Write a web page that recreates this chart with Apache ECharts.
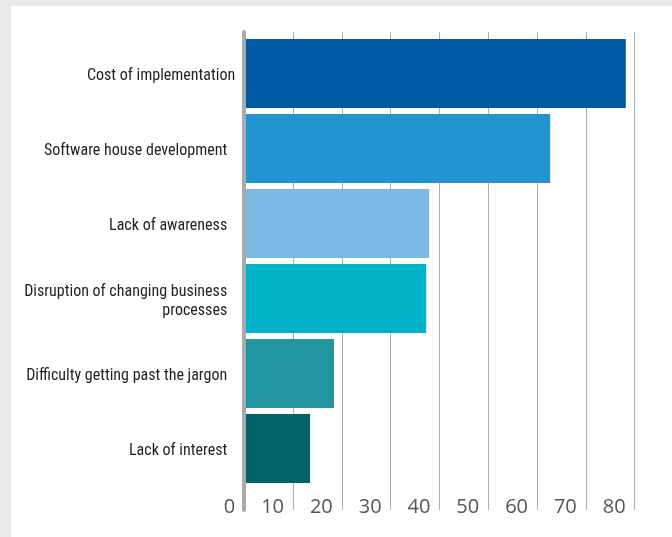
<!DOCTYPE html>
<html>
<head>
<meta charset="utf-8">
<script src="https://cdn.jsdelivr.net/npm/echarts@6/dist/echarts.min.js"></script>
<style>
html,body{margin:0;padding:0;background:#e8e9e8;}
#panel{position:absolute;left:11px;top:6px;width:661px;height:531px;background:#fff;}
#chart{position:absolute;left:0;top:0;width:672px;height:537px;}
</style>
</head>
<body>
<div id="panel"></div>
<div id="chart"></div>
<script>
const categories = [
  "Cost of implementation",
  "Software house development",
  "Lack of awareness",
  "Disruption of changing business\nprocesses",
  "Difficulty getting past the jargon",
  "Lack of interest"
];
const values = [78.2, 62.7, 37.9, 37.3, 18.4, 13.5];
const barColors = ["#005ba3", "#2394d2", "#7cb8e4", "#00b3c9", "#2196a1", "#006367"];
const xTicks = [0, 10, 20, 30, 40, 50, 60, 70, 80];

const labelFont = '"Roboto Condensed", "Liberation Sans Narrow", "DejaVu Sans Condensed", sans-serif';
const chart = echarts.init(document.getElementById('chart'), null, {renderer: 'canvas'});
const left = 244.2, right = 672 - 634.6;
chart.setOption({
  backgroundColor: 'transparent',
  animation: false,
  grid: [
    {left: left, right: right, top: 32, bottom: 27},
    {left: left, right: right, top: 36, bottom: 51}
  ],
  xAxis: [
    {
      gridIndex: 0, type: 'value', min: xTicks[0], max: xTicks[xTicks.length - 1], interval: 10,
      axisLine: {show: false}, axisTick: {show: false},
      splitLine: {show: true, lineStyle: {color: '#adadad', width: 1}},
      axisLabel: {
        margin: -3, align: 'right', verticalAlign: 'middle', padding: [0, 9, 0, 0],
        fontFamily: 'Open Sans', fontSize: 20, color: '#555555'
      }
    },
    {gridIndex: 1, type: 'value', min: 0, max: 80, show: false}
  ],
  yAxis: [
    {
      gridIndex: 0, type: 'value', min: 0, max: 1, z: 10,
      axisLine: {show: true, lineStyle: {color: '#aaaaaa', width: 4}},
      axisTick: {show: false}, axisLabel: {show: false}, splitLine: {show: false}
    },
    {
      gridIndex: 1, type: 'category', inverse: true, data: categories,
      axisLine: {show: false}, axisTick: {show: false}, splitLine: {show: false},
      axisLabel: {
        margin: 9,
        padding: [5, 0, 0, 0],
        formatter: function (v, i) {
          const key = i === 0 ? 'a' : 'b';
          return v.split('\n').map(s => '{' + key + '|' + s + '}').join('\n');
        },
        rich: {
          a: {fontFamily: labelFont, fontSize: 16, color: '#231f20', lineHeight: 19, align: 'right'},
          b: {fontFamily: labelFont, fontSize: 16, color: '#231f20', lineHeight: 19, align: 'right', padding: [0, 8, 0, 0]}
        }
      }
    }
  ],
  series: [{
    type: 'bar',
    xAxisIndex: 1, yAxisIndex: 1,
    barWidth: 69,
    data: values.map((v, i) => ({value: v, itemStyle: {color: barColors[i]}})),
    z: 2
  }]
});
</script>
</body>
</html>
